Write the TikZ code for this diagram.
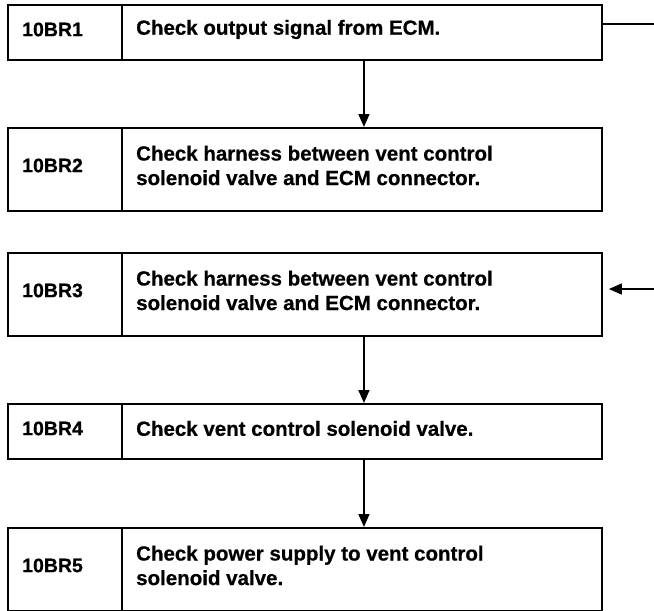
\documentclass[tikz,border=0pt]{standalone}
\usepackage{fontspec}
\setmainfont{Liberation Sans}[BoldFeatures={FakeBold=0.6}]
\usetikzlibrary{arrows.meta}
\begin{document}
\begin{tikzpicture}[x=1pt,y=-1pt,
  lbl/.style={font=\fontsize{19.5}{24.5}\selectfont\bfseries, anchor=west, align=left, inner sep=0pt},
  msg/.style={font=\fontsize{20.5}{24.5}\selectfont\bfseries, anchor=west, align=left, inner sep=0pt},
  box/.style={draw, line width=1.9pt, anchor=north west, inner sep=0pt},
  conn/.style={line width=1.6pt},
  arr/.style={line width=1.6pt, -{Triangle[width=11pt,length=13pt]}}]
\useasboundingbox (0,0) rectangle (654,611);
\fill[white] (0,0) rectangle (654,611);
% box 1
\node[box, minimum width=114pt, minimum height=55pt] (l1) at (7,4) {};
\node[box, minimum width=480pt, minimum height=55pt] (t1) at (121,4) {};
\node[lbl] (n1) at ([xshift=15pt,yshift=3pt]l1.west) {10BR1};
\node[msg] (m1) at ([xshift=15pt,yshift=3pt]t1.west) {Check output signal from ECM.};
% box 2
\node[box, minimum width=114pt, minimum height=83pt] (l2) at (7,127) {};
\node[box, minimum width=480pt, minimum height=83pt] (t2) at (121,127) {};
\node[lbl] (n2) at ([xshift=15pt,yshift=4pt]l2.west) {10BR2};
\node[msg] (m2) at ([xshift=15pt,yshift=4pt]t2.west) {Check harness between vent control\\solenoid valve and ECM connector.};
% box 3
\node[box, minimum width=114pt, minimum height=83pt] (l3) at (7,252) {};
\node[box, minimum width=480pt, minimum height=83pt] (t3) at (121,252) {};
\node[lbl] (n3) at ([xshift=15pt,yshift=4pt]l3.west) {10BR3};
\node[msg] (m3) at ([xshift=15pt,yshift=4pt]t3.west) {Check harness between vent control\\solenoid valve and ECM connector.};
% box 4
\node[box, minimum width=114pt, minimum height=55pt] (l4) at (7,403) {};
\node[box, minimum width=480pt, minimum height=55pt] (t4) at (121,403) {};
\node[lbl] (n4) at ([xshift=15pt,yshift=3pt]l4.west) {10BR4};
\node[msg] (m4) at ([xshift=15pt,yshift=3pt]t4.west) {Check vent control solenoid valve.};
% box 5
\node[box, minimum width=114pt, minimum height=83pt] (l5) at (7,527) {};
\node[box, minimum width=480pt, minimum height=83pt] (t5) at (121,527) {};
\node[lbl] (n5) at ([xshift=15pt,yshift=4pt]l5.west) {10BR5};
\node[msg] (m5) at ([xshift=15pt,yshift=4pt]t5.west) {Check power supply to vent control\\solenoid valve.};
% connectors
\coordinate (e1) at (654,24);
\coordinate (e3) at (654,289);
\draw[conn] (t1.east |- e1) -- (e1);
\draw[arr, shorten >=6pt] (e3) -- (t3.east |- e3);
\draw[arr] ([xshift=2pt]t1.south) -- ([xshift=2pt]t2.north);
\draw[arr] ([xshift=2pt]t3.south) -- ([xshift=2pt]t4.north);
\draw[arr] ([xshift=2pt]t4.south) -- ([xshift=2pt]t5.north);
\end{tikzpicture}
\end{document}
